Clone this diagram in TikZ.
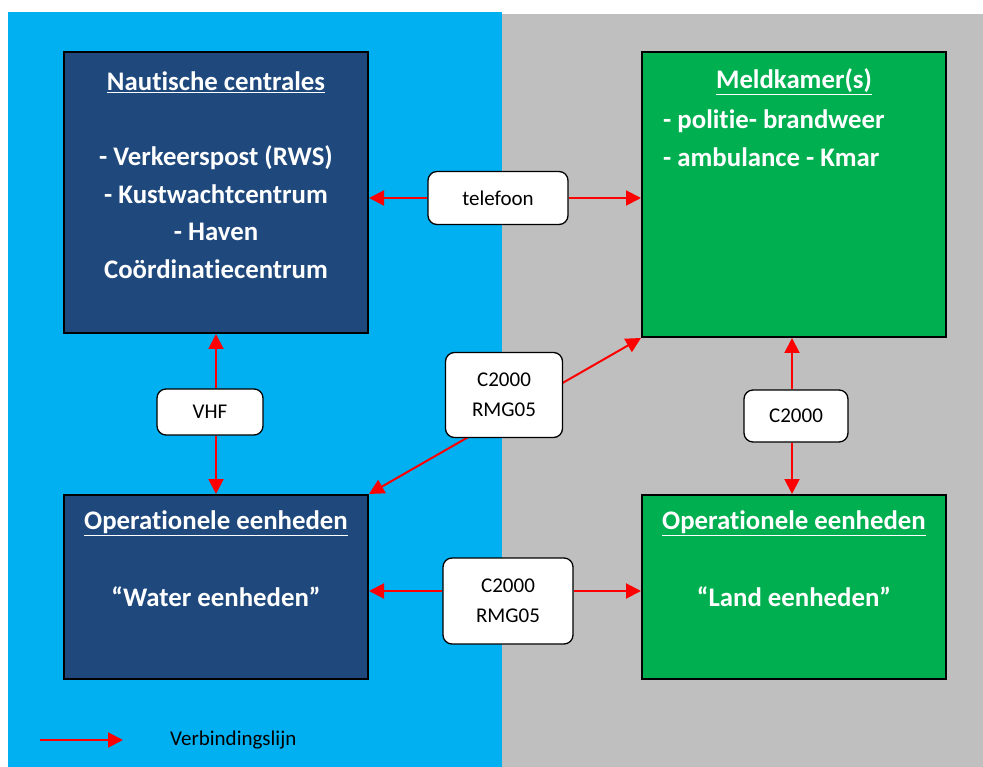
\documentclass[tikz,border=0pt]{standalone}
\usepackage{fontspec}
\setmainfont{Carlito}[Ligatures=NoCommon]
\usetikzlibrary{arrows.meta}
\definecolor{zeeblauw}{HTML}{00B0F0}
\definecolor{landgrijs}{HTML}{BFBFBF}
\definecolor{donkerblauw}{HTML}{1F497D}
\definecolor{meldgroen}{HTML}{00B050}
\tikzset{
	eenheid/.style={draw=black, line width=2pt, minimum width=304pt, inner sep=0pt},
	boxtxt/.style={text=white, font=\fontsize{26.8}{37.5}\selectfont\bfseries, align=center, inner sep=0pt},
	kanaal/.style={draw=black, fill=white, line width=1.3pt, rounded corners=9pt, inner sep=0pt,
		font=\fontsize{21}{30}\selectfont, align=center},
	pijlpunt/.tip={Triangle[length=15pt,width=15pt]},
	link/.style={red, line width=2pt, -pijlpunt},
	dubbel/.style={red, line width=2pt, pijlpunt-pijlpunt},
}
\begin{document}
\begin{tikzpicture}[x=1pt,y=-1pt]
	\useasboundingbox (0,0) rectangle (983,767);
	% achtergrond: water links, land rechts
	\fill[zeeblauw]  (8,12) rectangle (502,767);
	\fill[landgrijs] (502,14) rectangle (983,767);

	\node[eenheid, fill=donkerblauw, minimum height=281pt] (naut) at (216,192.5) {};
	\node[eenheid, fill=meldgroen,   minimum height=285pt] (meld) at (794,194.5) {};
	\node[eenheid, fill=donkerblauw, minimum height=184pt] (opL)  at (216,587) {};
	\node[eenheid, fill=meldgroen,   minimum height=184pt] (opR)  at (794,587) {};

	\node[boxtxt] (nautTxt) at (216,175) {\underline{Nautische centrales}\\[37.5pt]- Verkeerspost (RWS)\\- Kustwachtcentrum\\- Haven\\Coördinatiecentrum};
	\node[boxtxt] (meldHead) at (794,82) {\underline{Meldkamer(s)}};
	\node[boxtxt, anchor=west, align=left] (meldList) at (663,138) {- politie- brandweer\\- ambulance - Kmar};
	\node[boxtxt] (opLHead) at (216,523) {\underline{Operationele eenheden}};
	\node[boxtxt] (opLTxt)  at (216,597) {“Water eenheden”};
	\node[boxtxt] (opRHead) at (794,523) {\underline{Operationele eenheden}};
	\node[boxtxt] (opRTxt)  at (794,597) {“Land eenheden”};

	% schuine verbinding loopt achter het label door
	\draw[dubbel] (opL.north east) -- (meld.south west);

	\node[kanaal, minimum width=140pt, minimum height=53pt] (tel)   at (498,198) {telefoon};
	\node[kanaal, minimum width=106pt, minimum height=46pt] (vhf)   at (210,412) {VHF};
	\node[kanaal, minimum width=117pt, minimum height=85pt] (rmgM)  at (504,395) {C2000\\RMG05};
	\node[kanaal, minimum width=104pt, minimum height=52pt] (c2k)   at (796,416) {C2000};
	\node[kanaal, minimum width=130pt, minimum height=86pt] (rmgB)  at (508,601) {C2000\\RMG05};

	\draw[link] (tel.west) -- (tel.west -| naut.east);
	\draw[link] (tel.east) -- (tel.east -| meld.west);
	\draw[link] (naut.south |- vhf.north) -- (naut.south);
	\draw[link] (naut.south |- vhf.south) -- (opL.north);
	\draw[link] ([xshift=-2pt]meld.south |- c2k.north) -- ([xshift=-2pt]meld.south);
	\draw[link] ([xshift=-2pt]meld.south |- c2k.south) -- ([xshift=-2pt]opR.north);
	\draw[link] ([yshift=-4pt]opL.east -| rmgB.west) -- ([yshift=-4pt]opL.east);
	\draw[link] ([yshift=-4pt]opR.west -| rmgB.east) -- ([yshift=-4pt]opR.west);

	% legenda
	\coordinate (legA) at (40,740);
	\coordinate (legB) at (123,740);
	\draw[link] (legA) -- (legB);
	\node[anchor=west, font=\fontsize{21}{24}\selectfont, inner sep=0pt] (legTxt) at (170,740) {Verbindingslijn};
\end{tikzpicture}
\end{document}
